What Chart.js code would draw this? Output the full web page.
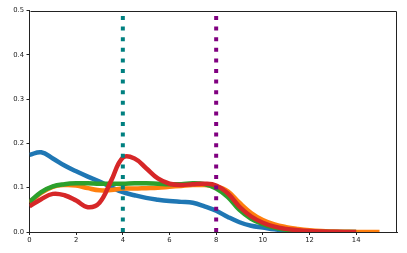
<!DOCTYPE html>
<html>
<head>
<meta charset="utf-8">
<script src="https://cdn.jsdelivr.net/npm/chart.js@4/dist/chart.umd.min.js"></script>
<style>
  html, body { margin: 0; padding: 0; background: #fff; }
  #wrap { width: 407px; height: 253px; }
</style>
</head>
<body>
<div id="wrap"><canvas id="cv" width="407" height="253"></canvas></div>
<script>
// x grid (step 0.5) shared by the four density curves
const xs = [0, 0.5, 1, 1.5, 2, 2.5, 3, 3.5, 4, 4.5, 5, 5.5, 6, 6.5, 7, 7.5, 8, 8.5, 9, 9.5,
            10, 10.5, 11, 11.5, 12, 12.5, 13, 13.5, 14, 14.5, 15];

const blueY   = [0.174, 0.180, 0.166, 0.150, 0.137, 0.125, 0.114, 0.101, 0.090, 0.083, 0.077, 0.073, 0.070, 0.068, 0.066, 0.058,
                 0.048, 0.034, 0.022, 0.014, 0.010, 0.006, 0.003, 0.001, 0.000];
const orangeY = [0.066, 0.088, 0.102, 0.106, 0.105, 0.099, 0.094, 0.095, 0.098, 0.098, 0.099, 0.100, 0.102, 0.104, 0.106, 0.106,
                 0.103, 0.092, 0.066, 0.043, 0.027, 0.017, 0.011, 0.007, 0.004, 0.002, 0.001, 0.0005, 0, 0, 0];
const greenY  = [0.068, 0.090, 0.103, 0.108, 0.110, 0.110, 0.109, 0.109, 0.109, 0.110, 0.110, 0.109, 0.108, 0.108, 0.110, 0.108,
                 0.098, 0.079, 0.050, 0.030, 0.018, 0.010, 0.005, 0.002, 0.001, 0, 0, 0, 0];
const redY    = [0.058, 0.074, 0.086, 0.083, 0.071, 0.056, 0.066, 0.116, 0.168, 0.166, 0.144, 0.121, 0.109, 0.106, 0.108, 0.109,
                 0.105, 0.087, 0.057, 0.035, 0.021, 0.012, 0.007, 0.004, 0.002, 0.001, 0.0005, 0, 0];

// vertical dotted markers
const vlineX   = [4, 8];
const vlineTop = 0.49;

const xTicks = [0, 2, 4, 6, 8, 10, 12, 14];
const yTicks = [0, 0.1, 0.2, 0.3, 0.4, 0.5];

const pts = ys => ys.map((y, i) => ({ x: xs[i], y }));

function curve(ys, color, order) {
  return { data: pts(ys), borderColor: color, borderWidth: 4.5, pointRadius: 0, tension: 0.4,
           fill: false, order, borderCapStyle: 'butt', borderJoinStyle: 'round' };
}
function vline(x, color, order) {
  return { data: [{ x, y: 0 }, { x, y: vlineTop }], borderColor: color, borderWidth: 4, pointRadius: 0,
           borderDash: [4, 6.6], borderCapStyle: 'butt', fill: false, order };
}

// top + right spines
const frame = {
  id: 'frame',
  afterDraw(chart) {
    const { ctx, chartArea: a } = chart;
    ctx.save();
    ctx.strokeStyle = '#222'; ctx.lineWidth = 1;
    ctx.beginPath();
    ctx.moveTo(Math.round(a.left) + 0.5, Math.round(a.top) + 0.5);
    ctx.lineTo(Math.round(a.right) - 0.5, Math.round(a.top) + 0.5);
    ctx.lineTo(Math.round(a.right) - 0.5, Math.round(a.bottom));
    ctx.stroke();
    ctx.restore();
  }
};

const font = { family: 'DejaVu Sans', size: 6.8 };

new Chart(document.getElementById('cv'), {
  type: 'line',
  data: {
    datasets: [
      curve(blueY, '#1f77b4', 6),
      curve(orangeY, '#ff7f0e', 5),
      curve(greenY, '#2ca02c', 4),
      curve(redY, '#d62728', 3),
      vline(vlineX[0], '#008080', 2),
      vline(vlineX[1], '#800080', 1),
    ],
  },
  options: {
    responsive: false, animation: false,
    layout: { padding: { top: 10.5, right: 10, left: 0, bottom: 0 } },
    plugins: { legend: { display: false }, tooltip: { enabled: false } },
    scales: {
      x: {
        type: 'linear', min: 0, max: 15.75,
        afterBuildTicks: s => { s.ticks = xTicks.map(v => ({ value: v })); },
        afterFit: s => { s.height = 21; },
        grid: { drawOnChartArea: false, tickLength: 3, tickColor: '#222' },
        border: { color: '#222', width: 1 },
        ticks: { color: '#222', font, padding: 1, maxRotation: 0 },
      },
      y: {
        min: 0, max: 0.5,
        afterBuildTicks: s => { s.ticks = yTicks.map(v => ({ value: v })); },
        afterFit: s => { s.width = 29.5; },
        grid: { drawOnChartArea: false, tickLength: 3, tickColor: '#222' },
        border: { color: '#222', width: 1 },
        ticks: { color: '#222', font, padding: 2.5, callback: v => v.toFixed(1) },
      },
    },
  },
  plugins: [frame],
});
</script>
</body>
</html>
